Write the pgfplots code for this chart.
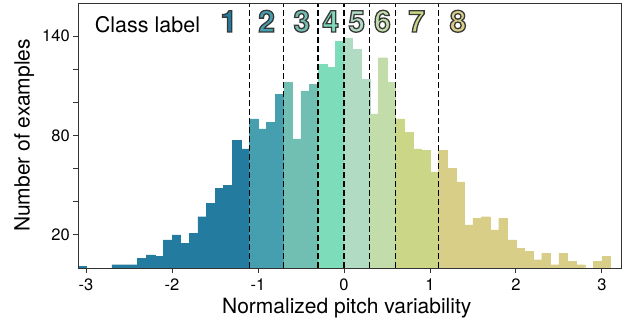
\documentclass[border=0pt]{standalone}
\usepackage{fontspec}
\setmainfont{TeX Gyre Heros}
\usepackage{pgfplots}
\pgfplotsset{compat=1.18}
\definecolor{c1}{RGB}{35,123,160}
\definecolor{c2}{RGB}{69,159,175}
\definecolor{c3}{RGB}{113,191,178}
\definecolor{c4}{RGB}{125,220,186}
\definecolor{c5}{RGB}{178,219,196}
\definecolor{c6}{RGB}{194,221,169}
\definecolor{c7}{RGB}{203,214,134}
\definecolor{c8}{RGB}{216,206,136}
\newcommand{\cls}[2]{{\bfseries\color{#1}\special{pdf:literal q 2 Tr 1.3 w 0.22 0.22 0.22 RG}#2\special{pdf:literal Q}}}
\begin{document}
\begin{tikzpicture}
\useasboundingbox (-78.3pt,-57pt) rectangle (553.7pt,268pt);
\begin{axis}[
  at={(0pt,0pt)}, anchor=south west,
  width=543.4pt, height=265pt, scale only axis,
  xmin=-3.09, xmax=3.23, ymin=0, ymax=160,
  axis line style={black!80, line width=0.9pt},
  tick style={black!80, line width=0.9pt},
  tick align=outside, major tick length=5pt,
  xtick={-3,-2,-1,0,1,2,3}, xticklabels={-3,-2,-1,0,1,2,3},
  ytick={20,40,60,80,100,120,140}, yticklabels={20,,,80,,,140},
  xtick pos=bottom, ytick pos=left,
  ticklabel style={font=\fontsize{16.5}{18}\selectfont},
  xticklabel style={yshift=-2pt},
  /pgf/number format/assume math mode=true,
  label style={font=\fontsize{21}{24}\selectfont},
  xlabel={Normalized pitch variability},
  ylabel={Number of examples},
  xlabel style={at={(axis description cs:0.494,0)}, anchor=base, yshift=-45.6pt},
  ylabel style={at={(axis description cs:-0.0896,0.5)}, anchor=base},
  axis on top,
]
\pgfplotsset{barstyle/.style={ybar, bar width=0.1, bar shift=0pt, fill=#1, draw=#1, line width=0.3pt}}
\addplot[barstyle=c1] coordinates {(-3.05,1) (-2.65,2) (-2.55,2) (-2.45,2) (-2.35,6) (-2.25,8) (-2.15,7) (-2.05,17) (-1.95,20) (-1.85,15) (-1.75,21) (-1.65,31) (-1.55,39) (-1.45,48) (-1.35,50) (-1.25,77) (-1.15,72)};
\addplot[barstyle=c2] coordinates {(-1.05,90) (-0.95,84) (-0.85,88) (-0.75,105)};
\addplot[barstyle=c3] coordinates {(-0.65,112) (-0.55,78) (-0.45,107) (-0.35,111)};
\addplot[barstyle=c4] coordinates {(-0.25,123) (-0.15,121) (-0.05,137)};
\addplot[barstyle=c5] coordinates {(0.05,139) (0.15,132) (0.25,114)};
\addplot[barstyle=c6] coordinates {(0.35,93) (0.45,127) (0.55,112)};
\addplot[barstyle=c7] coordinates {(0.65,90) (0.75,82) (0.85,72) (0.95,71) (1.05,58)};
\addplot[barstyle=c8] coordinates {(1.15,71) (1.25,60) (1.35,52) (1.45,26) (1.55,30) (1.65,31) (1.75,23) (1.85,30) (1.95,17) (2.05,12) (2.15,10) (2.25,5) (2.35,9) (2.45,2) (2.55,9) (2.65,4) (2.75,2) (2.95,4) (3.05,7)};
\addplot[ycomb, black, line width=1.4pt, dash pattern=on 6pt off 3pt, mark=none] coordinates {(-1.1,160) (-0.7,160) (-0.3,160) (0,160) (0.3,160) (0.6,160) (1.1,160)};
\node[anchor=base, font=\fontsize{21.5}{24}\selectfont] at (axis cs:-2.285,142.4) {Class label};
\node[anchor=base, font=\fontsize{30}{34}\selectfont] at (axis cs:-1.34,142.5) {\cls{c1}{1}};
\node[anchor=base, font=\fontsize{30}{34}\selectfont] at (axis cs:-0.90,142.5) {\cls{c2}{2}};
\node[anchor=base, font=\fontsize{30}{34}\selectfont] at (axis cs:-0.49,142.5) {\cls{c3}{3}};
\node[anchor=base, font=\fontsize{30}{34}\selectfont] at (axis cs:-0.155,142.5) {\cls{c4}{4}};
\node[anchor=base, font=\fontsize{30}{34}\selectfont] at (axis cs:0.148,142.5) {\cls{c5}{5}};
\node[anchor=base, font=\fontsize{30}{34}\selectfont] at (axis cs:0.448,142.5) {\cls{c6}{6}};
\node[anchor=base, font=\fontsize{30}{34}\selectfont] at (axis cs:0.845,142.5) {\cls{c7}{7}};
\node[anchor=base, font=\fontsize{30}{34}\selectfont] at (axis cs:1.326,142.5) {\cls{c8}{8}};
\end{axis}
\end{tikzpicture}
\end{document}
